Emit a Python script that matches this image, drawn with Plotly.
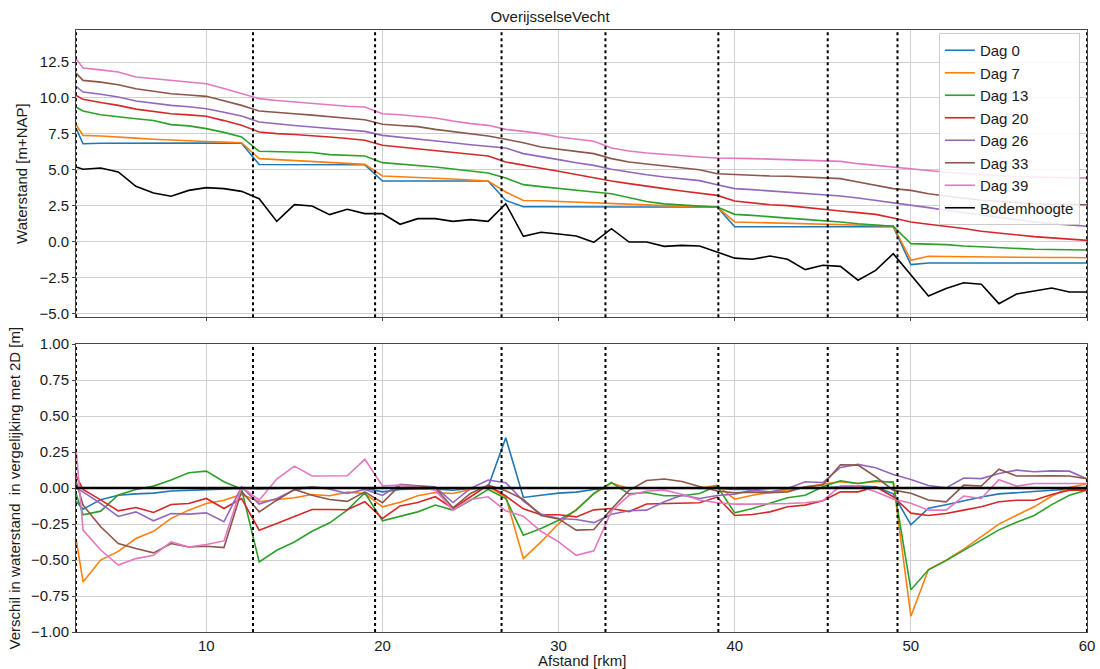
import plotly.graph_objects as go

# Afstand langs de rivier [rkm]
afstand = [2.6] + list(range(3, 61))

# Waterstanden [m+NAP]
dag0 = [7.9,
        6.81, 6.84, 6.85, 6.85, 6.85, 6.85, 6.85, 6.85, 6.85, 6.84,
        5.36, 5.36, 5.35, 5.35, 5.35, 5.34, 5.34,
        4.21, 4.21, 4.21, 4.21, 4.21, 4.21, 4.21,
        2.86, 2.42, 2.42, 2.41, 2.41, 2.41, 2.40, 2.40, 2.40, 2.40, 2.40, 2.40, 2.40,
        1.03, 1.03, 1.03, 1.03, 1.03, 1.03, 1.03, 1.03, 1.03, 1.03,
        -1.61, -1.50, -1.50, -1.50, -1.50, -1.50, -1.50, -1.50, -1.50, -1.50, -1.50]
dag7 = [8.15,
        7.39, 7.35, 7.30, 7.20, 7.12, 7.05, 7.00, 6.96, 6.92, 6.88,
        5.77, 5.70, 5.65, 5.58, 5.50, 5.44, 5.37,
        4.56, 4.52, 4.47, 4.42, 4.35, 4.28, 4.21,
        3.45, 2.86, 2.84, 2.80, 2.76, 2.72, 2.68, 2.60, 2.55, 2.50, 2.45, 2.42, 2.40,
        1.36, 1.33, 1.30, 1.27, 1.24, 1.20, 1.17, 1.14, 1.11, 1.08,
        -1.31, -1.03, -1.05, -1.07, -1.08, -1.09, -1.10, -1.11, -1.12, -1.12, -1.13]
dag13 = [9.37,
         9.09, 8.83, 8.67, 8.55, 8.43, 8.14, 8.05, 7.86, 7.60, 7.28,
         6.28, 6.25, 6.22, 6.20, 6.05, 6.00, 5.96,
         5.49, 5.40, 5.30, 5.19, 5.05, 4.92, 4.77,
         4.42, 3.96, 3.82, 3.68, 3.56, 3.45, 3.33, 3.05, 2.78, 2.62, 2.52, 2.46, 2.40,
         1.89, 1.82, 1.70, 1.63, 1.54, 1.47, 1.36, 1.24, 1.13, 1.06,
         -0.15, -0.17, -0.22, -0.31, -0.38, -0.42, -0.49, -0.54, -0.56, -0.58, -0.59]
dag20 = [10.18,
         9.90, 9.68, 9.48, 9.22, 9.05, 8.90, 8.82, 8.72, 8.42, 8.09,
         7.63, 7.51, 7.45, 7.38, 7.28, 7.17, 7.05,
         6.70, 6.58, 6.47, 6.35, 6.24, 6.12, 5.95,
         5.54, 5.30, 5.10, 4.89, 4.65, 4.42, 4.21, 4.03, 3.84, 3.68, 3.52, 3.35, 3.21,
         2.82, 2.70, 2.56, 2.50, 2.36, 2.24, 2.12, 2.01, 1.89, 1.64,
         1.36, 1.20, 1.06, 0.90, 0.71, 0.57, 0.43, 0.34, 0.25, 0.15, 0.08]
dag26 = [10.81,
         10.41, 10.25, 10.06, 9.78, 9.62, 9.48, 9.38, 9.25, 9.00, 8.74,
         8.32, 8.18, 8.08, 7.97, 7.86, 7.77, 7.67,
         7.39, 7.27, 7.16, 7.04, 6.88, 6.74, 6.65,
         6.51, 6.12, 5.93, 5.70, 5.49, 5.30, 5.03, 4.82, 4.65, 4.49, 4.38, 4.24, 3.95,
         3.68, 3.61, 3.52, 3.45, 3.38, 3.29, 3.17, 3.03, 2.87, 2.68,
         2.52, 2.36, 2.17, 2.01, 1.82, 1.66, 1.48, 1.36, 1.24, 1.17, 1.06]
dag33 = [11.73,
         11.22, 11.10, 10.92, 10.64, 10.45, 10.29, 10.20, 10.11, 9.80, 9.48,
         9.09, 8.97, 8.90, 8.80, 8.67, 8.58, 8.48,
         8.16, 8.08, 8.00, 7.81, 7.65, 7.46, 7.35,
         7.12, 6.88, 6.58, 6.42, 6.23, 6.12, 5.77, 5.54, 5.40, 5.28, 5.14, 5.00, 4.72,
         4.65, 4.61, 4.56, 4.54, 4.49, 4.47, 4.38, 4.14, 3.91, 3.68,
         3.56, 3.33, 3.17, 3.03, 2.87, 2.80, 2.70, 2.63, 2.59, 2.56, 2.56]
dag39 = [12.73,
         12.08, 11.95, 11.80, 11.46, 11.35, 11.22, 11.10, 10.99, 10.65, 10.29,
         9.95, 9.82, 9.71, 9.60, 9.48, 9.42, 9.37,
         8.90, 8.83, 8.74, 8.60, 8.39, 8.21, 8.09,
         7.81, 7.67, 7.51, 7.28, 7.11, 6.98, 6.51, 6.30, 6.16, 6.05, 5.95, 5.88, 5.81,
         5.81, 5.77, 5.74, 5.70, 5.68, 5.65, 5.58, 5.42, 5.30, 5.19,
         5.03, 4.91, 4.82, 4.73, 4.65, 4.56, 4.51, 4.49, 4.47, 4.44, 4.42]
bodemhoogte = [5.19,
               5.03, 5.12, 4.84, 3.84, 3.38, 3.15, 3.56, 3.75, 3.68, 3.49,
               2.98, 1.40, 2.57, 2.47, 1.87, 2.24, 1.94,
               1.94, 1.20, 1.59, 1.59, 1.40, 1.52, 1.40,
               2.63, 0.36, 0.64, 0.52, 0.38, -0.06, 0.89, -0.04, -0.04, -0.34, -0.27, -0.31, -0.73,
               -1.16, -1.24, -1.01, -1.24, -1.96, -1.66, -1.73, -2.70, -2.01, -0.85,
               -2.36, -3.80, -3.28, -2.87, -2.98, -4.33, -3.66, -3.45, -3.24, -3.52, -3.52]

# Verschil met 2D-model [m]
vdag0 = [-0.09,
         -0.146, -0.08, -0.05, -0.04, -0.035, -0.02, -0.015, -0.01, -0.005, -0.002,
         -0.005, 0.0, 0.005, 0.005, 0.0, 0.0, 0.0,
         -0.026, -0.01, -0.005, -0.005, -0.015, 0.0, 0.01,
         0.35, -0.065, -0.05, -0.035, -0.028, -0.01, 0.0, -0.002, 0.0, 0.0, 0.0, 0.0, -0.003,
         -0.009, -0.009, -0.002, -0.002, -0.002, 0.002, 0.009, 0.014, 0.009, -0.04,
         -0.255, -0.14, -0.115, -0.087, -0.062, -0.04, -0.03, -0.022, -0.015, -0.008, -0.005]
vdag7 = [-0.35,
         -0.652, -0.50, -0.44, -0.35, -0.30, -0.21, -0.153, -0.107, -0.084, -0.044,
         -0.095, -0.079, -0.067, -0.044, -0.053, -0.028, -0.037,
         -0.13, -0.098, -0.053, -0.030, -0.037, -0.009, 0.009,
         -0.06, -0.49, -0.374, -0.246, -0.15, -0.04, 0.035, -0.002, 0.0, 0.0, 0.0, 0.0, 0.019,
         -0.077, -0.049, -0.03, -0.015, 0.005, 0.028, 0.044, 0.032, 0.044, 0.044,
         -0.89, -0.566, -0.501, -0.424, -0.335, -0.25, -0.188, -0.13, -0.055, 0.004, 0.03]
vdag13 = [-0.037,
          -0.185, -0.16, -0.047, -0.009, 0.014, 0.056, 0.107, 0.118, 0.044, -0.007,
          -0.513, -0.432, -0.374, -0.30, -0.241, -0.153, -0.032,
          -0.227, -0.195, -0.165, -0.118, -0.153, -0.084, -0.009,
          -0.072, -0.327, -0.281, -0.223, -0.153, -0.037, 0.039, -0.04, -0.03, -0.053, -0.053, -0.037, 0.015,
          -0.172, -0.142, -0.102, -0.067, -0.049, 0.009, 0.051, 0.032, 0.051, 0.039,
          -0.706, -0.568, -0.504, -0.432, -0.36, -0.29, -0.238, -0.19, -0.115, -0.049, -0.014]
vdag20 = [0.085,
          -0.009, -0.082, -0.158, -0.135, -0.169, -0.114, -0.107, -0.072, -0.142, -0.072,
          -0.292, -0.246, -0.20, -0.149, -0.149, -0.15, -0.095,
          -0.211, -0.124, -0.10, -0.06, -0.142, -0.06, 0.021,
          -0.055, -0.144, -0.185, -0.185, -0.20, -0.151, -0.142, -0.163, -0.11, -0.107, -0.105, -0.102, -0.062,
          -0.19, -0.183, -0.165, -0.13, -0.118, -0.088, -0.026, -0.026, 0.009, -0.06,
          -0.174, -0.19, -0.176, -0.153, -0.13, -0.095, -0.084, -0.084, -0.044, -0.014, -0.014]
vdag26 = [0.0,
          -0.026, -0.107, -0.197, -0.165, -0.227, -0.176, -0.181, -0.172, -0.234, 0.009,
          -0.111, -0.072, -0.014, 0.009, -0.007, -0.037, -0.009,
          -0.051, 0.027, 0.016, 0.009, -0.10, -0.002, 0.056,
          0.038, -0.09, -0.18, -0.211, -0.218, -0.24, -0.182, -0.157, -0.153, -0.095, -0.049, -0.072, -0.051,
          -0.042, -0.014, -0.026, -0.002, 0.044, 0.039, 0.144, 0.165, 0.142, 0.095,
          0.06, 0.018, 0.002, 0.07, 0.066, 0.102, 0.125, 0.114, 0.12, 0.118, 0.064]
vdag33 = [0.05,
          -0.118, -0.269, -0.385, -0.42, -0.45, -0.385, -0.409, -0.404, -0.413, -0.021,
          -0.165, -0.084, -0.009, -0.049, -0.079, -0.092, -0.026,
          -0.102, 0.021, 0.014, 0.002, -0.137, -0.037, 0.021,
          -0.018, -0.078, -0.19, -0.214, -0.292, -0.288, -0.145, -0.016, 0.053, 0.063, 0.046, 0.011, -0.02,
          -0.032, -0.028, -0.032, -0.026, 0.009, 0.021, 0.162, 0.16, 0.079, -0.014,
          -0.035, -0.082, -0.095, 0.021, 0.015, 0.131, 0.084, 0.086, 0.086, 0.084, 0.065]
vdag39 = [0.276,
          -0.292, -0.43, -0.535, -0.49, -0.467, -0.374, -0.409, -0.392, -0.367, 0.009,
          -0.084, 0.063, 0.153, 0.084, 0.084, 0.086, 0.2,
          0.016, 0.021, 0.009, -0.014, -0.153, -0.079, -0.06,
          -0.158, -0.195, -0.30, -0.374, -0.467, -0.436, -0.16, -0.05, -0.02, -0.014, -0.043, -0.082, -0.102,
          -0.111, -0.111, -0.111, -0.107, -0.102, -0.088, 0.016, 0.014, -0.026, -0.075,
          -0.105, -0.153, -0.153, -0.055, -0.072, 0.058, 0.014, 0.032, 0.032, 0.032, 0.032]

# Grenzen tussen de deeltrajecten [rkm]
grenzen = [2.6, 12.65, 19.58, 26.76, 32.66, 39.07, 45.28, 49.24, 60.0]

labels = ["Dag 0", "Dag 7", "Dag 13", "Dag 20", "Dag 26", "Dag 33", "Dag 39"]
colors = ["#1f77b4", "#ff7f0e", "#2ca02c", "#d62728", "#9467bd", "#8c564b", "#e377c2"]
waterstand = [dag0, dag7, dag13, dag20, dag26, dag33, dag39]
verschil = [vdag0, vdag7, vdag13, vdag20, vdag26, vdag33, vdag39]

FONT = "Liberation Sans, Arial, sans-serif"
TEXT = "#1a1a1a"
GRID = "#d0d0d0"
FRAME = "#444444"

fig = go.Figure()

for lab, col, ys in zip(labels, colors, waterstand):
    fig.add_trace(go.Scatter(x=afstand, y=ys, mode="lines", name=lab,
                             line=dict(color=col, width=1.6),
                             xaxis="x", yaxis="y"))
fig.add_trace(go.Scatter(x=afstand, y=bodemhoogte, mode="lines", name="Bodemhoogte",
                         line=dict(color="black", width=1.6),
                         xaxis="x", yaxis="y"))

for lab, col, ys in zip(labels, colors, verschil):
    fig.add_trace(go.Scatter(x=afstand, y=ys, mode="lines", name=lab,
                             line=dict(color=col, width=1.6), showlegend=False,
                             xaxis="x2", yaxis="y2"))

# nullijn in het onderste paneel
fig.add_trace(go.Scatter(x=[afstand[0], afstand[-1]], y=[0, 0], mode="lines",
                         line=dict(color="black", width=2.5), showlegend=False,
                         hoverinfo="skip", xaxis="x2", yaxis="y2"))

# verticale stippellijnen op de trajectgrenzen, in beide panelen
for g in grenzen:
    for xr, yr in (("x", "y domain"), ("x2", "y2 domain")):
        fig.add_shape(type="line", xref=xr, yref=yr, x0=g, x1=g, y0=0, y1=1,
                      line=dict(color="black", width=2, dash="dot"), layer="above")

axis_common = dict(showgrid=True, gridcolor=GRID, gridwidth=1,
                   showline=True, linecolor=FRAME, linewidth=1, mirror=True,
                   ticks="outside", ticklen=3, tickcolor=FRAME, automargin=False,
                   zeroline=False, tickfont=dict(family=FONT, size=15, color=TEXT))

# as-titel onder het onderste paneel
fig.add_annotation(text="Afstand [rkm]", xref="paper", yref="paper",
                   x=0.5, y=-37 / 602, xanchor="center", yanchor="bottom",
                   yshift=-1, borderpad=0,
                   showarrow=False, font=dict(family=FONT, size=15, color=TEXT))

fig.update_layout(
    width=1100, height=669,
    margin=dict(l=76, r=13, t=30, b=37),
    paper_bgcolor="white", plot_bgcolor="white",
    font=dict(family=FONT, size=15, color=TEXT),
    title=dict(text="OverijsselseVecht", x=0.5, xref="container", xanchor="center",
               y=1 - 17 / 669, yref="container", yanchor="middle",
               font=dict(family=FONT, size=15, color=TEXT)),
    xaxis=dict(domain=[0, 1], range=[2.6, 60], anchor="y", matches="x2",
               tick0=0, dtick=10, showticklabels=False, **axis_common),
    yaxis=dict(domain=[0.523, 1], range=[-5.27, 14.73], tick0=0, dtick=2.5,
               tickformat=".1f", anchor="x",
               title=dict(text="Waterstand [m+NAP]", standoff=8,
                          font=dict(family=FONT, size=15)),
               **axis_common),
    xaxis2=dict(domain=[0, 1], range=[2.6, 60], anchor="y2",
                tick0=0, dtick=10,
                **axis_common),
    yaxis2=dict(domain=[0, 0.478], range=[-1, 1], tick0=0, dtick=0.25,
                tickformat=".2f", anchor="x2",
                title=dict(text="Verschil in waterstand  in vergelijking met 2D [m]",
                           standoff=6, font=dict(family=FONT, size=15)),
                **axis_common),
    legend=dict(x=0.993, y=0.995, xanchor="right", yanchor="top",
                xref="paper", yref="paper",
                bgcolor="rgba(255,255,255,0.85)", bordercolor="#cccccc", borderwidth=1,
                font=dict(family=FONT, size=15, color=TEXT),
                tracegroupgap=0),
    showlegend=True,
)
fig.update_xaxes(ticklen=0, selector=dict(anchor="y2"))

fig.write_html("out.html")
